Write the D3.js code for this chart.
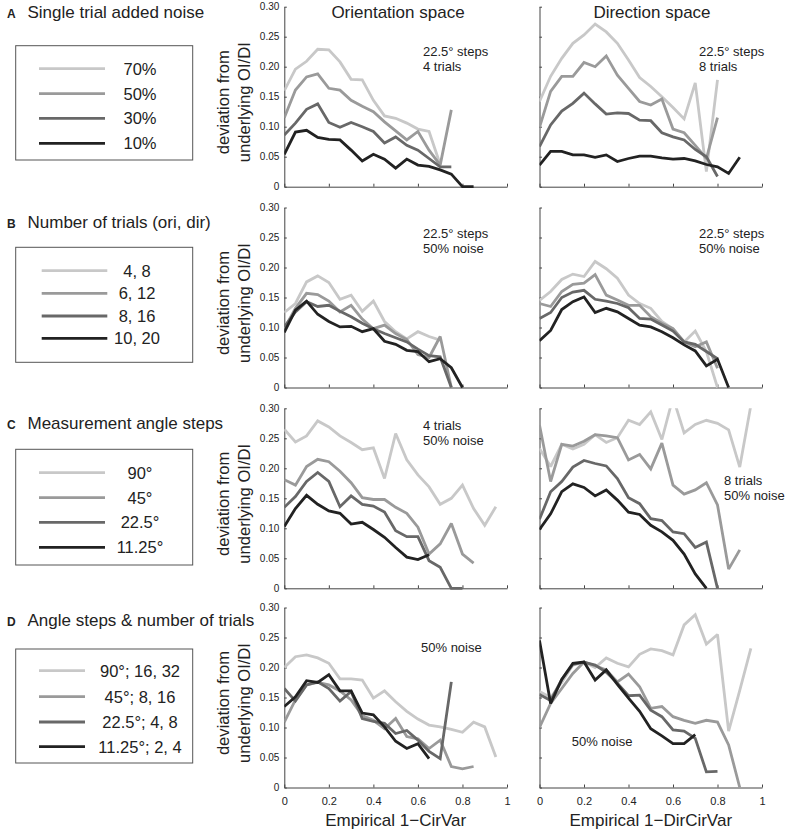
<!DOCTYPE html>
<html><head><meta charset="utf-8">
<script src="https://cdn.jsdelivr.net/npm/d3@7"></script>
<style>body{margin:0;background:#fff}svg{display:block}text{font-family:"Liberation Sans",Arial,sans-serif;fill:#222}</style>
</head><body><svg id="c" width="787" height="833"></svg>
<script>
const xBins = [0,0.05,0.10,0.15,0.20,0.25,0.30,0.35,0.40,0.45,0.50,0.55,0.60,0.65,0.70,0.75,0.80,0.85,0.90,0.95];
const xTicks = [0,0.2,0.4,0.6,0.8,1];
const yTicks = [0,0.05,0.10,0.15,0.20,0.25,0.30];
const yTickLabels = ["0","0.05","0.10","0.15","0.20","0.25","0.30"];
const lineColors = ["#c8c8c8","#9a9a9a","#686868","#222222"];

// A: single trial added noise
const legendA = ["70%","50%","30%","10%"];
const oriNoise70 = [0.160,0.196,0.209,0.229,0.228,0.208,0.179,0.178,0.144,0.118,0.114,0.106,0.096,0.092,0.037];
const oriNoise50 = [0.115,0.161,0.183,0.188,0.164,0.161,0.144,0.134,0.125,0.108,0.093,0.078,0.092,0.061,0.036,0.128];
const oriNoise30 = [0.086,0.106,0.129,0.138,0.107,0.099,0.107,0.100,0.092,0.073,0.083,0.069,0.061,0.047,0.033,0.033];
const oriNoise10 = [0.054,0.091,0.094,0.082,0.079,0.078,0.061,0.043,0.054,0.046,0.031,0.046,0.036,0.034,0.028,0.021,0,0];
const dirNoise70 = [0.142,0.184,0.214,0.239,0.253,0.271,0.258,0.239,0.211,0.182,0.167,0.150,0.132,0.113,0.173,0.025,0.178];
const dirNoise50 = [0.099,0.159,0.184,0.184,0.207,0.200,0.218,0.186,0.164,0.142,0.136,0.146,0.096,0.090,0.069,0.047,0.115];
const dirNoise30 = [0.067,0.103,0.126,0.139,0.156,0.138,0.121,0.123,0.122,0.111,0.110,0.090,0.083,0.078,0.062,0.050,0.017];
const dirNoise10 = [0.036,0.059,0.059,0.053,0.053,0.049,0.053,0.042,0.047,0.051,0.051,0.048,0.046,0.047,0.043,0.037,0.033,0.022,0.049];

// B: number of trials
const legendB = ["4, 8","6, 12","8, 16","10, 20"];
const oriTrials4 = [0.125,0.140,0.176,0.186,0.175,0.147,0.154,0.127,0.144,0.110,0.093,0.081,0.093,0.085,0.079];
const oriTrials6 = [0.098,0.132,0.157,0.155,0.144,0.126,0.137,0.114,0.098,0.104,0.090,0.080,0.055,0.050,0.085,0];
const oriTrials8 = [0.101,0.126,0.143,0.135,0.137,0.127,0.118,0.107,0.098,0.090,0.083,0.076,0.064,0.053,0.051,0];
const oriTrials10 = [0.092,0.129,0.144,0.122,0.110,0.101,0.102,0.093,0.098,0.077,0.072,0.062,0.060,0.043,0.048,0.033,0];
const dirTrials8 = [0.145,0.160,0.180,0.189,0.185,0.210,0.198,0.182,0.154,0.140,0.132,0.110,0.098,0.076,0.094,0.060,0];
const dirTrials12 = [0.140,0.135,0.160,0.172,0.174,0.188,0.154,0.146,0.137,0.137,0.118,0.107,0.098,0.076,0.068,0.076,0.032];
const dirTrials16 = [0.115,0.125,0.150,0.159,0.162,0.147,0.144,0.140,0.133,0.115,0.114,0.104,0.094,0.076,0.072,0.060,0.048];
const dirTrials20 = [0.078,0.095,0.130,0.143,0.151,0.125,0.132,0.126,0.115,0.104,0.101,0.093,0.083,0.071,0.061,0.036,0.047,0];

// C: measurement angle steps
const legendC = ["90°","45°","22.5°","11.25°"];
const oriStep90 = [0.265,0.244,0.254,0.279,0.269,0.254,0.243,0.231,0.234,0.183,0.258,0.214,0.189,0.169,0.140,0.150,0.172,0.133,0.105,0.136];
const oriStep45 = [0.181,0.172,0.203,0.215,0.211,0.195,0.176,0.151,0.148,0.148,0.135,0.125,0.102,0.057,0.074,0.108,0.057,0.042];
const oriStep22 = [0.135,0.153,0.178,0.193,0.178,0.136,0.154,0.140,0.137,0.127,0.096,0.086,0.086,0.046,0.035,0,0];
const oriStep11 = [0.103,0.133,0.155,0.140,0.129,0.125,0.107,0.110,0.098,0.085,0.068,0.052,0.048,0.056];
const dirStep90 = [0.233,0.203,0.240,0.232,0.240,0.256,0.243,0.251,0.280,0.273,0.294,0.248,0.318,0.259,0.273,0.280,0.275,0.264,0.202,0.305];
const dirStep45 = [0.272,0.178,0.240,0.237,0.245,0.256,0.254,0.251,0.214,0.223,0.199,0.242,0.172,0.157,0.164,0.176,0.139,0.032,0.064];
const dirStep22 = [0.115,0.161,0.178,0.202,0.213,0.208,0.204,0.183,0.151,0.141,0.116,0.113,0.094,0.091,0.068,0.077,0];
const dirStep11 = [0.098,0.124,0.161,0.174,0.168,0.154,0.164,0.147,0.127,0.123,0.105,0.094,0.080,0.057,0.024,0];

// D: angle steps & number of trials
const legendD = ["90°; 16, 32","45°; 8, 16","22.5°; 4, 8","11.25°; 2, 4"];
const oriCombo90 = [0.200,0.218,0.221,0.216,0.207,0.181,0.181,0.179,0.149,0.161,0.143,0.127,0.114,0.104,0.101,0.097,0.092,0.109,0.101,0.051];
const oriCombo45 = [0.109,0.146,0.171,0.175,0.171,0.161,0.146,0.120,0.112,0.098,0.115,0.085,0.081,0.065,0.079,0.035,0.031,0.035];
const oriCombo22 = [0.165,0.144,0.171,0.176,0.165,0.144,0.160,0.115,0.110,0.107,0.090,0.095,0.079,0.060,0.048,0.176];
const oriCombo11 = [0.135,0.151,0.178,0.175,0.188,0.161,0.161,0.124,0.121,0.101,0.077,0.065,0.073,0.048];
const dirCombo90 = [0.160,0.150,0.175,0.204,0.209,0.200,0.216,0.207,0.201,0.222,0.231,0.228,0.221,0.271,0.288,0.239,0.255,0.094,0.162,0.232];
const dirCombo45 = [0.100,0.140,0.165,0.190,0.209,0.203,0.196,0.176,0.189,0.168,0.132,0.135,0.118,0.112,0.107,0.112,0.109,0.071,0];
const dirCombo22 = [0.155,0.145,0.180,0.205,0.209,0.204,0.192,0.174,0.153,0.154,0.129,0.118,0.096,0.094,0.082,0.026,0.027];
const dirCombo11 = [0.245,0.140,0.180,0.207,0.209,0.179,0.196,0.172,0.149,0.127,0.098,0.086,0.073,0.073,0.088];

const rowTitles = [["A","Single trial added noise"],["B","Number of trials (ori, dir)"],["C","Measurement angle steps"],["D","Angle steps & number of trials"]];
const legends = [legendA, legendB, legendC, legendD];
const oriSeries = [[oriNoise70,oriNoise50,oriNoise30,oriNoise10],[oriTrials4,oriTrials6,oriTrials8,oriTrials10],[oriStep90,oriStep45,oriStep22,oriStep11],[oriCombo90,oriCombo45,oriCombo22,oriCombo11]];
const dirSeries = [[dirNoise70,dirNoise50,dirNoise30,dirNoise10],[dirTrials8,dirTrials12,dirTrials16,dirTrials20],[dirStep90,dirStep45,dirStep22,dirStep11],[dirCombo90,dirCombo45,dirCombo22,dirCombo11]];
const oriNotes = [["22.5° steps","4 trials"],["22.5° steps","50% noise"],["4 trials","50% noise"],["50% noise"]];
const dirNotes = [["22.5° steps","8 trials"],["22.5° steps","50% noise"],["8 trials","50% noise"],["50% noise"]];

// layout
const panelTops = [6.7, 207.5, 408.3, 607.5];
const panelH = 180;
const colX = [[284.3,507],[539.5,762]];
const titleBase = [17.5, 227.5, 429, 625.7];
const legendBox = [[45.7,160],[247.3,362.3],[449.3,565],[649,763]];
const legendLineY = [[68.7,93.7,118.3,143.3],[270.7,293.3,316,338.3],[472.7,497.7,522.3,547.3],[670.7,696.7,722,746.7]];
const legendLineX = [[39,105],[41.7,107.3],[39,105],[39,85]];
const legendTextX = [140,137,140,140];
const oriNotePos = [[423,56.4],[423,238],[423,429.7],[421,652.4]];
const dirNotePos = [[699,56.4],[699,238],[724,484.7],[571.7,746.4]];

const svg = d3.select("#c");
const defs = svg.append("defs");
const axisCol = "#444";

function drawPanel(row, col, series, notes, notePos) {
  const top = panelTops[row], bot = top + panelH;
  const x = d3.scaleLinear().domain([0,1]).range(colX[col]);
  const y = d3.scaleLinear().domain([0,0.3]).range([bot, top]);
  const g = svg.append("g");
  const cid = "clip" + row + "_" + col;
  defs.append("clipPath").attr("id", cid).append("rect")
    .attr("x", colX[col][0]).attr("y", top).attr("width", colX[col][1]-colX[col][0]+3).attr("height", panelH+3);
  // y axis
  const ya = d3.axisLeft(y).tickValues(yTicks).tickSizeInner(-2.5).tickSizeOuter(0).tickPadding(5)
     .tickFormat((d,i)=> col===0 ? yTickLabels[i] : "");
  const yg = g.append("g").attr("transform",`translate(${colX[col][0]},0)`).call(ya);
  // x axis
  const xa = d3.axisBottom(x).tickValues(xTicks).tickSizeInner(-3).tickSizeOuter(0).tickPadding(10)
     .tickFormat(d => row===3 ? (d===0?"0":d===1?"1":d3.format(".1f")(d)) : "");
  const xg = g.append("g").attr("transform",`translate(0,${bot})`).call(xa);
  [yg,xg].forEach(a=>{
    a.select(".domain").attr("stroke",axisCol).attr("stroke-width",1);
    a.selectAll(".tick line").attr("stroke",axisCol);
    a.selectAll(".tick text").attr("fill","#333").style("font-family","Liberation Sans, Arial, sans-serif");
  });
  yg.selectAll(".tick text").style("font-size","10px");
  xg.selectAll(".tick text").style("font-size","11px");
  // lines
  const line = d3.line().x((d,i)=>x(xBins[i])).y(d=>y(d));
  const lg = g.append("g").attr("clip-path",`url(#${cid})`);
  series.forEach((s,k)=>{
    lg.append("path").datum(s).attr("d",line).attr("fill","none")
      .attr("stroke",lineColors[k]).attr("stroke-width",2.8).attr("stroke-linejoin","miter").attr("stroke-miterlimit",2);
  });
  // notes
  notes.forEach((t,k)=>{
    g.append("text").attr("x",notePos[0]).attr("y",notePos[1]+k*15).style("font-size","13px").text(t);
  });
  if (col===0) {
    const cy = top + 95.5;
    g.append("text").attr("transform",`translate(229,${cy}) rotate(-90)`).attr("text-anchor","middle").style("font-size","16.6px").text("deviation from");
    g.append("text").attr("transform",`translate(250,${cy}) rotate(-90)`).attr("text-anchor","middle").style("font-size","16.6px").text("underlying OI/DI");
  }
  if (row===3) {
    g.append("text").attr("x",(colX[col][0]+colX[col][1])/2).attr("y",826).attr("text-anchor","middle")
      .style("font-size","17px").text(col===0 ? "Empirical 1\u2212CirVar" : "Empirical 1\u2212DirCirVar");
  }
}

for (let r=0;r<4;r++){
  drawPanel(r,0,oriSeries[r],oriNotes[r],oriNotePos[r]);
  drawPanel(r,1,dirSeries[r],dirNotes[r],dirNotePos[r]);
  // row title
  svg.append("text").attr("x",7).attr("y",titleBase[r]).style("font-size","12px").style("font-weight","bold").text(rowTitles[r][0]);
  svg.append("text").attr("x",27.5).attr("y",titleBase[r]).style("font-size","17px").text(rowTitles[r][1]);
  // legend
  const [b0,b1] = legendBox[r];
  svg.append("rect").attr("x",15.7).attr("y",b0).attr("width",177).attr("height",b1-b0)
    .attr("fill","none").attr("stroke","#555").attr("stroke-width",1);
  legends[r].forEach((lab,k)=>{
    const ly = legendLineY[r][k];
    svg.append("line").attr("x1",legendLineX[r][0]).attr("x2",legendLineX[r][1]).attr("y1",ly).attr("y2",ly)
      .attr("stroke",lineColors[k]).attr("stroke-width",2.8);
    svg.append("text").attr("x",legendTextX[r]).attr("y",ly+6).attr("text-anchor","middle").style("font-size","16.5px").text(lab);
  });
}
// column titles
svg.append("text").attr("x",398).attr("y",17.5).attr("text-anchor","middle").style("font-size","17px").text("Orientation space");
svg.append("text").attr("x",652).attr("y",17.5).attr("text-anchor","middle").style("font-size","17px").text("Direction space");
</script></body></html>
